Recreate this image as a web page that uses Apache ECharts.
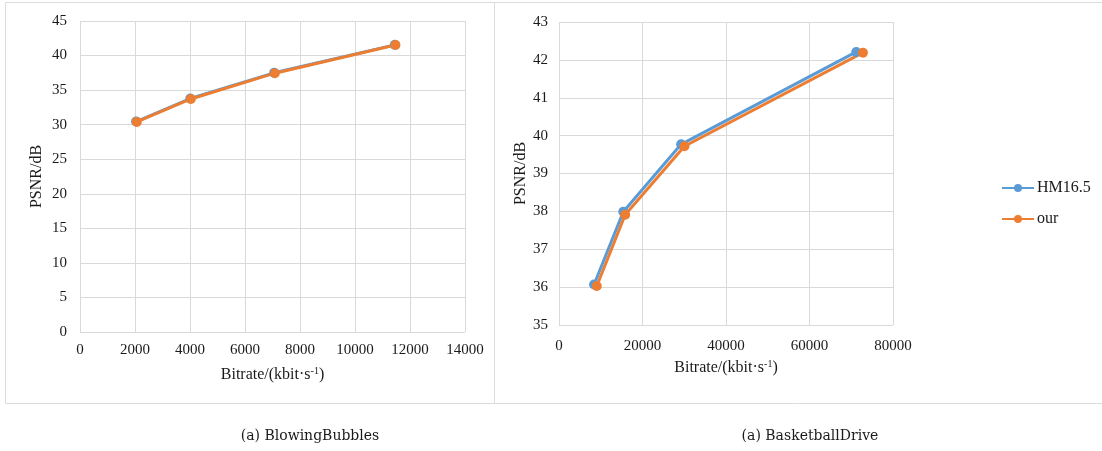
<!DOCTYPE html>
<html>
<head>
<meta charset="utf-8">
<script src="https://cdn.jsdelivr.net/npm/echarts@6/dist/echarts.min.js"></script>
<style>
html,body{margin:0;padding:0;background:#fff;}
#c{width:1102px;height:451px;}
</style>
</head>
<body>
<div id="c"></div>
<script>
// ---- Data ----
var seriesNames = ['HM16.5', 'our'];
// BlowingBubbles: [bitrate, PSNR]
var bbHM = [[2040, 30.45], [4010, 33.78], [7060, 37.50], [11450, 41.55]];
var bbOur = [[2065, 30.40], [4030, 33.72], [7085, 37.45], [11470, 41.52]];
// BasketballDrive: [bitrate, PSNR]
var bdHM = [[8400, 36.07], [15400, 37.99], [29250, 39.77], [71200, 42.21]];
var bdOur = [[9050, 36.03], [15850, 37.91], [30050, 39.72], [72800, 42.19]];
var captions = ['(a) BlowingBubbles', '(a) BasketballDrive'];
var yTitle = 'PSNR/dB';

var FONT = '"Liberation Serif", "Times New Roman", serif';
var TXT = '#1a1a1a';
var GRID = '#d9d9d9';
var BLUE = '#5B9BD5';
var ORANGE = '#ED7D31';

function xAxisCfg(gi, max, interval, margin) {
  return {
    type: 'value', gridIndex: gi, min: 0, max: max, interval: interval,
    axisLine: {show: false}, axisTick: {show: false},
    splitLine: {show: true, lineStyle: {color: GRID, width: 1}},
    axisLabel: {color: TXT, fontFamily: FONT, fontSize: 15, margin: margin,
      formatter: function (v) { return String(v); }},
    name: '{a|Bitrate/(kbit·s}{b|-1}{a|)}',
    nameLocation: 'middle', nameGap: 34,
    nameTextStyle: {
      rich: {
        a: {fontFamily: FONT, fontSize: 16, color: TXT},
        b: {fontFamily: FONT, fontSize: 10, color: TXT, verticalAlign: 'top', padding: [0, 0, 7, 0]}
      }
    }
  };
}
function yAxisCfg(gi, min, max, interval, margin, gap) {
  return {
    type: 'value', gridIndex: gi, min: min, max: max, interval: interval,
    axisLine: {show: false}, axisTick: {show: false},
    splitLine: {show: true, lineStyle: {color: GRID, width: 1}},
    axisLabel: {color: TXT, fontFamily: FONT, fontSize: 15, margin: margin},
    name: yTitle, nameLocation: 'middle', nameGap: gap, nameRotate: 90,
    nameTextStyle: {fontFamily: FONT, fontSize: 16, color: TXT}
  };
}
function lineSeries(name, data, gi, color) {
  return {
    name: name, type: 'line', xAxisIndex: gi, yAxisIndex: gi, data: data,
    symbol: 'circle', symbolSize: 10, showSymbol: true,
    lineStyle: {color: color, width: 3},
    itemStyle: {color: color},
    emphasis: {disabled: true},
    animation: false
  };
}

var chart = echarts.init(document.getElementById('c'), null, {renderer: 'canvas'});
chart.setOption({
  backgroundColor: '#fff',
  animation: false,
  grid: [
    {left: 80, top: 21, width: 385, height: 311},
    {left: 559, top: 22, width: 334, height: 303}
  ],
  xAxis: [xAxisCfg(0, 14000, 2000, 11), xAxisCfg(1, 80000, 20000, 14)],
  yAxis: [yAxisCfg(0, 0, 45, 5, 13, 35), yAxisCfg(1, 35, 43, 1, 11, 29)],
  legend: {
    data: seriesNames,
    orient: 'vertical',
    left: 1001, top: 180, padding: 0,
    itemWidth: 32, itemHeight: 10, itemGap: 15,
    textStyle: {fontFamily: FONT, fontSize: 16, color: TXT, padding: [0, 0, 0, -2]},
    selectedMode: false
  },
  series: [
    lineSeries(seriesNames[0], bbHM, 0, BLUE),
    lineSeries(seriesNames[1], bbOur, 0, ORANGE),
    lineSeries(seriesNames[0], bdHM, 1, BLUE),
    lineSeries(seriesNames[1], bdOur, 1, ORANGE)
  ],
  graphic: [
    {type: 'rect', shape: {x: 5.5, y: 2.5, width: 489, height: 401}, style: {fill: null, stroke: '#dcdcdc', lineWidth: 1}, silent: true, z: -1},
    {type: 'rect', shape: {x: 494.5, y: 2.5, width: 620, height: 401}, style: {fill: null, stroke: '#dcdcdc', lineWidth: 1}, silent: true, z: -1},
    {type: 'text', x: 310, y: 436, style: {text: captions[0], fontFamily: '"DejaVu Serif", serif', fontSize: 14, fill: TXT, textAlign: 'center', textVerticalAlign: 'middle'}, silent: true},
    {type: 'text', x: 810, y: 436, style: {text: captions[1], fontFamily: '"DejaVu Serif", serif', fontSize: 14, fill: TXT, textAlign: 'center', textVerticalAlign: 'middle'}, silent: true}
  ]
});
</script>
</body>
</html>
